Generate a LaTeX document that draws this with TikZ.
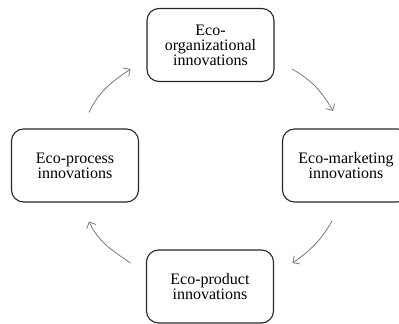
\documentclass[tikz,border=0pt]{standalone}
\usepackage{fontspec}
\setmainfont{Liberation Serif}
\usetikzlibrary{arrows.meta}

\begin{document}
\begin{tikzpicture}
  [x=1pt,y=1pt,
   every node/.style={draw=black!85,line width=1.1pt,rounded corners=12pt,
     minimum width=127pt,minimum height=73pt,align=center,
     font=\fontsize{16}{15}\selectfont},
   cyc/.style={draw=black!55,line width=0.75pt,
     -{Straight Barb[length=5pt,width=10pt]}}]
  \useasboundingbox (0,0) rectangle (399,324);
  \node (eorg) at (210.5,279) {Eco-\\organizational\\innovations};
  \node (eproc) at (75,158.5) {Eco-process\\innovations};
  \node (emkt) at (346,158.5) {Eco-marketing\\innovations};
  \node (eprod) at (210,37.5) {Eco-product\\innovations};
  % arrows running round the cycle
  \draw[cyc] ([shift={(14,16)}]eproc.north) to[out=65,in=215] ([shift={(-16,-24)}]eorg.west);
  \draw[cyc] ([shift={(17.5,-24)}]eorg.east) to[out=-30,in=120] ([shift={(-13,17.5)}]emkt.north);
  \draw[cyc] ([shift={(-14,-18.5)}]emkt.south) to[out=240,in=35] ([shift={(18.5,23.5)}]eprod.east);
  \draw[cyc] ([shift={(-15.5,23.5)}]eprod.west) to[out=145,in=-65] ([shift={(14,-19)}]eproc.south);
\end{tikzpicture}
\end{document}
